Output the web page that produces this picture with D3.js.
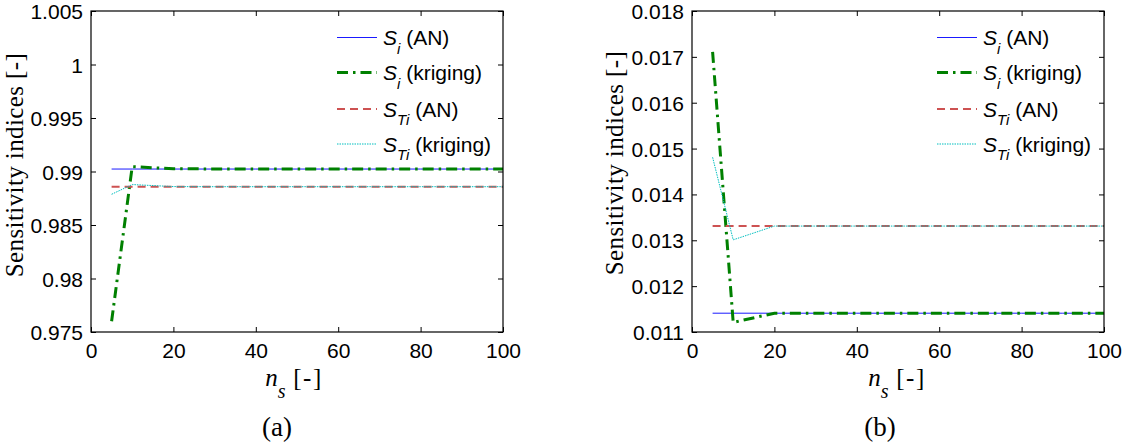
<!DOCTYPE html>
<html>
<head>
<meta charset="utf-8">
<script src="https://cdn.jsdelivr.net/npm/d3@7"></script>
<style>
  html, body { margin: 0; padding: 0; background: #fff; }
  svg { display: block; }
</style>
</head>
<body>
<svg id="fig" width="1124" height="444"></svg>
<script>
// Sample sizes n_s
const ns = [5, 10, 20, 30, 40, 50, 60, 70, 80, 90, 100];

// Panel (a): indices of the dominant input
const siAN_a    = [0.99023, 0.99023, 0.99023, 0.99023, 0.99023, 0.99023, 0.99023, 0.99023, 0.99023, 0.99023, 0.99023];
const siKrig_a  = [0.97600, 0.99045, 0.99026, 0.99024, 0.99023, 0.99023, 0.99023, 0.99023, 0.99023, 0.99023, 0.99023];
const stiAN_a   = [0.98858, 0.98858, 0.98858, 0.98858, 0.98858, 0.98858, 0.98858, 0.98858, 0.98858, 0.98858, 0.98858];
const stiKrig_a = [0.98787, 0.98878, 0.98859, 0.98858, 0.98858, 0.98858, 0.98858, 0.98858, 0.98858, 0.98858, 0.98858];

// Panel (b): indices of the secondary input
const siAN_b    = [0.01141, 0.01141, 0.01141, 0.01141, 0.01141, 0.01141, 0.01141, 0.01141, 0.01141, 0.01141, 0.01141];
const siKrig_b  = [0.01711, 0.01121, 0.01141, 0.01141, 0.01141, 0.01141, 0.01141, 0.01141, 0.01141, 0.01141, 0.01141];
const stiAN_b   = [0.01331, 0.01331, 0.01331, 0.01331, 0.01331, 0.01331, 0.01331, 0.01331, 0.01331, 0.01331, 0.01331];
const stiKrig_b = [0.01481, 0.01301, 0.01331, 0.01331, 0.01331, 0.01331, 0.01331, 0.01331, 0.01331, 0.01331, 0.01331];

// Axis ticks
const xTicks  = [0, 20, 40, 60, 80, 100];
const yTicksA = [0.975, 0.98, 0.985, 0.99, 0.995, 1, 1.005];
const yTicksB = [0.011, 0.012, 0.013, 0.014, 0.015, 0.016, 0.017, 0.018];

// Legend entries: base letter, subscript, suffix
const legendItems = [
  { base: "S", sub: "i",  suffix: " (AN)" },
  { base: "S", sub: "i",  suffix: " (kriging)" },
  { base: "S", sub: "Ti", suffix: " (AN)" },
  { base: "S", sub: "Ti", suffix: " (kriging)" }
];

// Line styles for the four series
const styles = [
  { color: "#1a1aff", width: 1,   dash: null },
  { color: "#008000", width: 3,   dash: "11,5,2.5,5" },
  { color: "#cd5252", width: 2,   dash: "8,5" },
  { color: "#00bfbf", width: 1,   dash: "1.5,1" }
];

const svg = d3.select("#fig");
const sans = '"Liberation Sans", Arial, sans-serif';
const serif = '"Liberation Serif", "Times New Roman", serif';
const fmt = d => String(+d.toFixed(4));

function panel(cfg) {
  const { left, right, top, bottom, yDomain, yTicks, series, legendX, tag,
          ylabelX, ylabelCy, xlabelCx } = cfg;
  const x = d3.scaleLinear().domain([0, 100]).range([left, right]);
  const y = d3.scaleLinear().domain(yDomain).range([bottom, top]);
  const g = svg.append("g");

  const clipId = "clip-" + tag;
  svg.append("clipPath").attr("id", clipId)
    .append("rect").attr("x", left).attr("y", top)
    .attr("width", right - left).attr("height", bottom - top);

  // Ticks (inward) on all four sides
  const xb = g.append("g").attr("transform", `translate(0,${bottom})`)
    .call(d3.axisBottom(x).tickValues(xTicks).tickSizeInner(-5).tickSizeOuter(0).tickPadding(11).tickFormat(fmt));
  const xt = g.append("g").attr("transform", `translate(0,${top})`)
    .call(d3.axisTop(x).tickValues(xTicks).tickSizeInner(-5).tickSizeOuter(0).tickFormat(""));
  const yl = g.append("g").attr("transform", `translate(${left},0)`)
    .call(d3.axisLeft(y).tickValues(yTicks).tickSizeInner(-5).tickSizeOuter(0).tickPadding(8).tickFormat(fmt));
  const yr = g.append("g").attr("transform", `translate(${right},0)`)
    .call(d3.axisRight(y).tickValues(yTicks).tickSizeInner(-5).tickSizeOuter(0).tickFormat(""));
  [xb, xt, yl, yr].forEach(a => {
    a.attr("font-family", sans).attr("font-size", 21);
    a.select(".domain").remove();
    a.selectAll(".tick line").attr("stroke", "#000").attr("stroke-width", 1);
    a.selectAll(".tick text").attr("fill", "#000");
  });
  yl.selectAll(".tick text").attr("dy", "0.36em");

  // Series lines
  const line = d3.line().x((d, i) => x(ns[i])).y(d => y(d));
  series.forEach((s, i) => {
    const st = styles[i];
    g.append("path")
      .attr("clip-path", `url(#${clipId})`)
      .attr("d", line(s))
      .attr("fill", "none")
      .attr("stroke", st.color)
      .attr("stroke-width", st.width)
      .attr("stroke-dasharray", st.dash);
  });

  // Axes box
  g.append("rect")
    .attr("x", left).attr("y", top)
    .attr("width", right - left).attr("height", bottom - top)
    .attr("fill", "none").attr("stroke", "#000").attr("stroke-width", 1.2);

  // Legend
  const rowY = [37.5, 72.5, 109, 144];
  legendItems.forEach((it, i) => {
    const st = styles[i];
    g.append("line")
      .attr("x1", legendX).attr("x2", legendX + 40)
      .attr("y1", rowY[i]).attr("y2", rowY[i])
      .attr("stroke", st.color).attr("stroke-width", st.width)
      .attr("stroke-dasharray", st.dash);
    const t = g.append("text")
      .attr("x", legendX + 46).attr("y", rowY[i] + 7.5)
      .attr("font-family", sans).attr("font-size", 21).attr("fill", "#000");
    t.append("tspan").attr("font-style", "italic").text(it.base);
    t.append("tspan").attr("font-style", "italic").attr("font-size", 15)
      .attr("dy", 8.5).text(it.sub);
    t.append("tspan").attr("dy", -8.5).text(it.suffix);
  });

  // Y axis label
  svg.append("text")
    .attr("transform", `translate(${ylabelX},${ylabelCy}) rotate(-90)`)
    .attr("text-anchor", "middle")
    .attr("font-family", serif).attr("font-size", 25).attr("letter-spacing", 0.4)
    .attr("fill", "#000")
    .text("Sensitivity indices [-]");

  // X axis label
  const xl = svg.append("text")
    .attr("x", xlabelCx).attr("y", 386)
    .attr("text-anchor", "middle")
    .attr("font-family", serif).attr("font-size", 25).attr("fill", "#000");
  xl.append("tspan").attr("font-style", "italic").text("n");
  xl.append("tspan").attr("font-style", "italic").attr("font-size", 20).attr("dy", 11.5).text("s");
  xl.append("tspan").attr("dy", -11.5).attr("letter-spacing", 1.5).text(" [-]");

  // Panel tag
  svg.append("text")
    .attr("x", xlabelCx - 17).attr("y", 436)
    .attr("text-anchor", "middle")
    .attr("font-family", serif).attr("font-size", 27).attr("fill", "#000")
    .text(`(${tag})`);
}

panel({
  tag: "a", left: 91, right: 503, top: 11, bottom: 332,
  yDomain: [0.975, 1.005], yTicks: yTicksA,
  series: [siAN_a, siKrig_a, stiAN_a, stiKrig_a],
  legendX: 337, ylabelX: 23, ylabelCy: 165, xlabelCx: 294
});

panel({
  tag: "b", left: 692, right: 1104, top: 11, bottom: 332,
  yDomain: [0.011, 0.018], yTicks: yTicksB,
  series: [siAN_b, siKrig_b, stiAN_b, stiKrig_b],
  legendX: 937, ylabelX: 623, ylabelCy: 163, xlabelCx: 897
});
</script>
</body>
</html>
